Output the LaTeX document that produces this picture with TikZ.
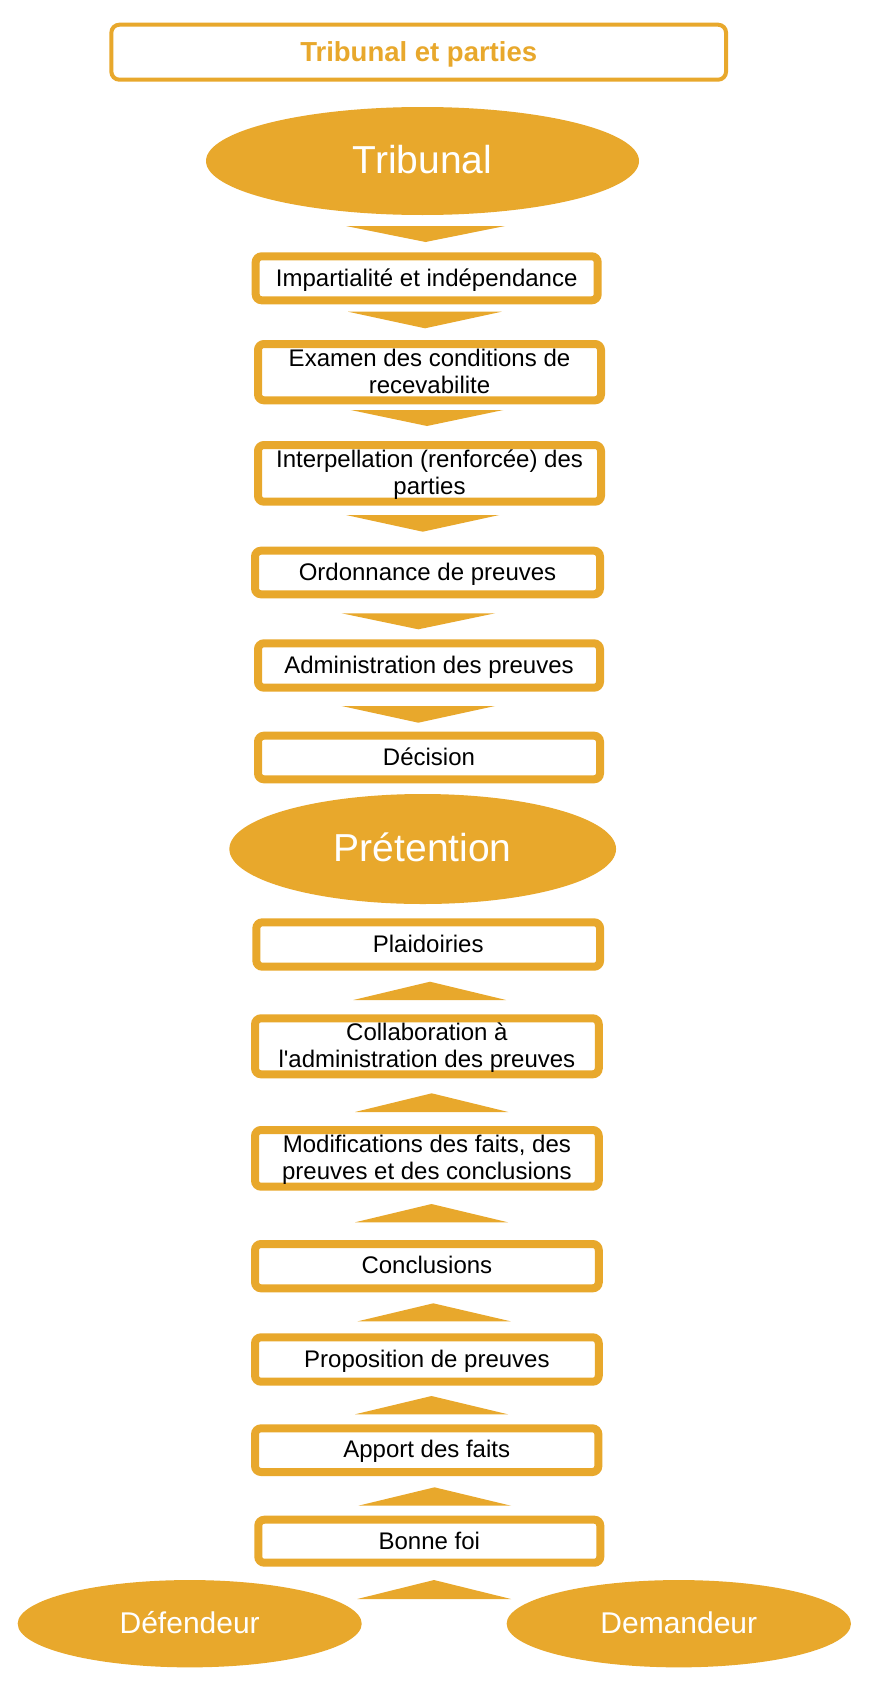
\documentclass[tikz,border=0pt]{standalone}
\usepackage{fontspec}
\setmainfont{Liberation Sans}
\usetikzlibrary{shapes.geometric}
\definecolor{ocre}{RGB}{232,168,44}
\tikzset{
  x=1pt, y=-1pt,
  stepbox/.style={draw=ocre, fill=white, line width=8pt, rounded corners=6pt,
    inner sep=0pt, align=center, text height=18pt, text depth=2.4pt,
    font=\fontsize{24}{27.6}\selectfont},
  twoline/.style={text height=45.6pt},
  titlebox/.style={draw=ocre, fill=white, line width=4pt, rounded corners=8pt,
    inner sep=0pt, text=ocre, text height=20.6pt, text depth=2.75pt,
    font=\fontsize{27.5}{30}\selectfont\bfseries},
  bigoval/.style={ellipse, fill=ocre, inner sep=0pt, text=white,
    text height=29.25pt, text depth=3.9pt, font=\fontsize{39}{44}\selectfont},
  partyoval/.style={ellipse, fill=ocre, inner sep=0pt, text=white,
    text height=22.5pt, text depth=3pt, font=\fontsize{30}{34}\selectfont},
  flowarrow/.style={fill=ocre}
}
\begin{document}
\begin{tikzpicture}
\useasboundingbox (0,0) rectangle (870,1686);
\fill[white] (0,0) rectangle (870,1686);

\node[titlebox, minimum width=614.7pt, minimum height=55pt] (title) at (418.7,52.2) {Tribunal et parties};

\node[bigoval, minimum width=433pt, minimum height=108pt] (tribunal) at (422.5,161) {Tribunal};

\node[stepbox, minimum width=342pt, minimum height=44pt] (b1) at (426.7,278.3) {Impartialité et indépendance};
\node[stepbox, twoline, minimum width=343pt, minimum height=56.3pt] (b2) at (429.5,372.15) {Examen des conditions de\\recevabilite};
\node[stepbox, twoline, minimum width=343pt, minimum height=56.7pt] (b3) at (429.5,473.35) {Interpellation (renforcée) des\\parties};
\node[stepbox, minimum width=345pt, minimum height=43.6pt] (b4) at (427.5,572.5) {Ordonnance de preuves};
\node[stepbox, minimum width=342pt, minimum height=44.4pt] (b5) at (429,665.5) {Administration des preuves};
\node[stepbox, minimum width=342pt, minimum height=43.6pt] (b6) at (429,757.5) {Décision};

\node[bigoval, minimum width=386.7pt, minimum height=110pt] (pretention) at (422.7,849) {Prétention};

\node[stepbox, minimum width=343.7pt, minimum height=44.4pt] (b7) at (428.2,944.5) {Plaidoiries};
\node[stepbox, twoline, minimum width=343.7pt, minimum height=56pt] (b8) at (426.9,1046.3) {Collaboration à\\l\textquotesingle administration des preuves};
\node[stepbox, twoline, minimum width=343.7pt, minimum height=56.7pt] (b9) at (426.9,1158.35) {Modifications des faits, des\\preuves et des conclusions};
\node[stepbox, minimum width=343.7pt, minimum height=44.3pt] (b10) at (426.9,1266.15) {Conclusions};
\node[stepbox, minimum width=343.7pt, minimum height=44.4pt] (b11) at (426.9,1359.5) {Proposition de preuves};
\node[stepbox, minimum width=343.3pt, minimum height=43.7pt] (b12) at (426.7,1450.15) {Apport des faits};
\node[stepbox, minimum width=342pt, minimum height=43pt] (b13) at (429.3,1541.2) {Bonne foi};

\node[partyoval, minimum width=344pt, minimum height=87.3pt] (defendeur) at (189.7,1623.7) {Défendeur};
\node[partyoval, minimum width=344.3pt, minimum height=87.3pt] (demandeur) at (678.8,1623.7) {Demandeur};

% downward arrows
\fill[flowarrow] (346,226) -- (505,226) -- (425.5,242) -- cycle;
\fill[flowarrow] (348,311.7) -- (501.7,311.7) -- (425,328.3) -- cycle;
\fill[flowarrow] (350.7,410) -- (503.3,410) -- (427,426) -- cycle;
\fill[flowarrow] (346,515) -- (499.3,515) -- (422.7,531.7) -- cycle;
\fill[flowarrow] (341.7,613.3) -- (495,613.3) -- (418.3,629.3) -- cycle;
\fill[flowarrow] (341.7,706) -- (495,706) -- (418.3,722.7) -- cycle;

% upward arrows
\fill[flowarrow] (353.3,1000) -- (506,1000) -- (430,981.7) -- cycle;
\fill[flowarrow] (355,1112) -- (508.3,1112) -- (431.7,1093.3) -- cycle;
\fill[flowarrow] (355,1222.3) -- (508,1222.3) -- (431.5,1204) -- cycle;
\fill[flowarrow] (357.7,1321.3) -- (510.7,1321.3) -- (433.3,1303.3) -- cycle;
\fill[flowarrow] (355,1414.3) -- (508,1414.3) -- (431.5,1396) -- cycle;
\fill[flowarrow] (358.3,1505.7) -- (511,1505.7) -- (434.5,1487.3) -- cycle;
\fill[flowarrow] (357.3,1599) -- (511,1599) -- (434,1580) -- cycle;
\end{tikzpicture}
\end{document}
